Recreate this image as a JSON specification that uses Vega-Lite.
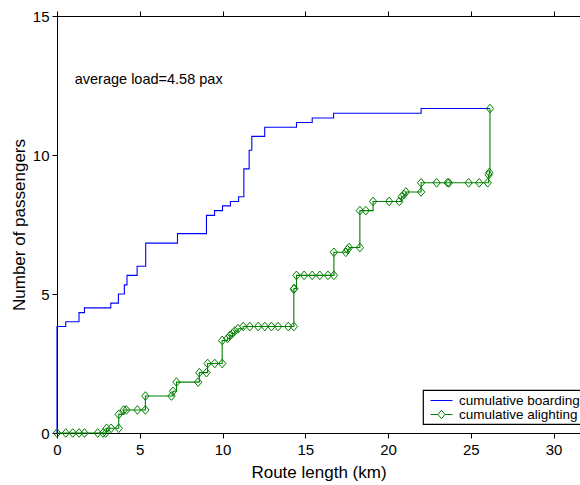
{
  "$schema": "https://vega.github.io/schema/vega-lite/v6.json",
  "width": 523,
  "height": 417,
  "autosize": {"type": "none"},
  "padding": {"left": 57, "top": 16, "right": 0, "bottom": 52},
  "background": "white",
  "config": {
    "view": {"stroke": null},
    "font": "Liberation Sans",
    "axis": {
      "grid": false,
      "domainColor": "black",
      "domainWidth": 1,
      "tickColor": "black",
      "tickWidth": 1,
      "tickSize": 5,
      "labelColor": "black",
      "titleColor": "black",
      "labelFont": "Liberation Sans",
      "titleFont": "Liberation Sans",
      "labelFontSize": 15,
      "titleFontSize": 17,
      "titleFontWeight": "normal",
      "labelFlush": false
    }
  },
  "datasets": {
    "curves": [
      {"series": "cumulative boarding", "i": 0, "km": 0, "pax": 0},
      {"series": "cumulative boarding", "i": 1, "km": 0, "pax": 3.83},
      {"series": "cumulative boarding", "i": 2, "km": 0.53, "pax": 4.0},
      {"series": "cumulative boarding", "i": 3, "km": 1.33, "pax": 4.33},
      {"series": "cumulative boarding", "i": 4, "km": 1.66, "pax": 4.5},
      {"series": "cumulative boarding", "i": 5, "km": 3.25, "pax": 4.67},
      {"series": "cumulative boarding", "i": 6, "km": 3.71, "pax": 5.0},
      {"series": "cumulative boarding", "i": 7, "km": 4.07, "pax": 5.33},
      {"series": "cumulative boarding", "i": 8, "km": 4.23, "pax": 5.67},
      {"series": "cumulative boarding", "i": 9, "km": 4.84, "pax": 6.0},
      {"series": "cumulative boarding", "i": 10, "km": 5.36, "pax": 6.83},
      {"series": "cumulative boarding", "i": 11, "km": 7.28, "pax": 7.17},
      {"series": "cumulative boarding", "i": 12, "km": 9.03, "pax": 7.83},
      {"series": "cumulative boarding", "i": 13, "km": 9.52, "pax": 8.0},
      {"series": "cumulative boarding", "i": 14, "km": 10.0, "pax": 8.17},
      {"series": "cumulative boarding", "i": 15, "km": 10.48, "pax": 8.33},
      {"series": "cumulative boarding", "i": 16, "km": 10.97, "pax": 8.5},
      {"series": "cumulative boarding", "i": 17, "km": 11.29, "pax": 9.5},
      {"series": "cumulative boarding", "i": 18, "km": 11.61, "pax": 10.17},
      {"series": "cumulative boarding", "i": 19, "km": 11.77, "pax": 10.67},
      {"series": "cumulative boarding", "i": 20, "km": 12.55, "pax": 11.0},
      {"series": "cumulative boarding", "i": 21, "km": 14.47, "pax": 11.17},
      {"series": "cumulative boarding", "i": 22, "km": 15.42, "pax": 11.33},
      {"series": "cumulative boarding", "i": 23, "km": 16.71, "pax": 11.5},
      {"series": "cumulative boarding", "i": 24, "km": 22.0, "pax": 11.67},
      {"series": "cumulative boarding", "i": 25, "km": 26.16, "pax": 11.67},
      {"series": "cumulative alighting", "i": 0, "km": 0.0, "pax": 0},
      {"series": "cumulative alighting", "i": 1, "km": 0.53, "pax": 0},
      {"series": "cumulative alighting", "i": 2, "km": 0.95, "pax": 0},
      {"series": "cumulative alighting", "i": 3, "km": 1.33, "pax": 0},
      {"series": "cumulative alighting", "i": 4, "km": 1.66, "pax": 0},
      {"series": "cumulative alighting", "i": 5, "km": 2.46, "pax": 0},
      {"series": "cumulative alighting", "i": 6, "km": 2.78, "pax": 0},
      {"series": "cumulative alighting", "i": 7, "km": 2.94, "pax": 0},
      {"series": "cumulative alighting", "i": 8, "km": 3.0, "pax": 0.17},
      {"series": "cumulative alighting", "i": 9, "km": 3.27, "pax": 0.17},
      {"series": "cumulative alighting", "i": 10, "km": 3.73, "pax": 0.17},
      {"series": "cumulative alighting", "i": 11, "km": 3.73, "pax": 0.67},
      {"series": "cumulative alighting", "i": 12, "km": 4.03, "pax": 0.83},
      {"series": "cumulative alighting", "i": 13, "km": 4.19, "pax": 0.83},
      {"series": "cumulative alighting", "i": 14, "km": 4.86, "pax": 0.83},
      {"series": "cumulative alighting", "i": 15, "km": 5.34, "pax": 0.83},
      {"series": "cumulative alighting", "i": 16, "km": 5.34, "pax": 1.33},
      {"series": "cumulative alighting", "i": 17, "km": 6.92, "pax": 1.33},
      {"series": "cumulative alighting", "i": 18, "km": 7.01, "pax": 1.5},
      {"series": "cumulative alighting", "i": 19, "km": 7.22, "pax": 1.83},
      {"series": "cumulative alighting", "i": 20, "km": 8.53, "pax": 1.83},
      {"series": "cumulative alighting", "i": 21, "km": 8.6, "pax": 2.17},
      {"series": "cumulative alighting", "i": 22, "km": 9.03, "pax": 2.17},
      {"series": "cumulative alighting", "i": 23, "km": 9.1, "pax": 2.5},
      {"series": "cumulative alighting", "i": 24, "km": 9.53, "pax": 2.5},
      {"series": "cumulative alighting", "i": 25, "km": 9.98, "pax": 2.5},
      {"series": "cumulative alighting", "i": 26, "km": 9.98, "pax": 3.33},
      {"series": "cumulative alighting", "i": 27, "km": 10.3, "pax": 3.4},
      {"series": "cumulative alighting", "i": 28, "km": 10.44, "pax": 3.5},
      {"series": "cumulative alighting", "i": 29, "km": 10.6, "pax": 3.58},
      {"series": "cumulative alighting", "i": 30, "km": 10.74, "pax": 3.67},
      {"series": "cumulative alighting", "i": 31, "km": 10.94, "pax": 3.75},
      {"series": "cumulative alighting", "i": 32, "km": 11.25, "pax": 3.83},
      {"series": "cumulative alighting", "i": 33, "km": 11.65, "pax": 3.83},
      {"series": "cumulative alighting", "i": 34, "km": 12.15, "pax": 3.83},
      {"series": "cumulative alighting", "i": 35, "km": 12.56, "pax": 3.83},
      {"series": "cumulative alighting", "i": 36, "km": 12.96, "pax": 3.83},
      {"series": "cumulative alighting", "i": 37, "km": 13.36, "pax": 3.83},
      {"series": "cumulative alighting", "i": 38, "km": 13.97, "pax": 3.83},
      {"series": "cumulative alighting", "i": 39, "km": 14.31, "pax": 3.83},
      {"series": "cumulative alighting", "i": 40, "km": 14.31, "pax": 5.17},
      {"series": "cumulative alighting", "i": 41, "km": 14.33, "pax": 5.2},
      {"series": "cumulative alighting", "i": 42, "km": 14.47, "pax": 5.67},
      {"series": "cumulative alighting", "i": 43, "km": 14.93, "pax": 5.67},
      {"series": "cumulative alighting", "i": 44, "km": 15.42, "pax": 5.67},
      {"series": "cumulative alighting", "i": 45, "km": 15.88, "pax": 5.67},
      {"series": "cumulative alighting", "i": 46, "km": 16.37, "pax": 5.67},
      {"series": "cumulative alighting", "i": 47, "km": 16.73, "pax": 5.67},
      {"series": "cumulative alighting", "i": 48, "km": 16.73, "pax": 6.5},
      {"series": "cumulative alighting", "i": 49, "km": 17.45, "pax": 6.5},
      {"series": "cumulative alighting", "i": 50, "km": 17.55, "pax": 6.6},
      {"series": "cumulative alighting", "i": 51, "km": 17.65, "pax": 6.67},
      {"series": "cumulative alighting", "i": 52, "km": 18.3, "pax": 6.67},
      {"series": "cumulative alighting", "i": 53, "km": 18.3, "pax": 8.0},
      {"series": "cumulative alighting", "i": 54, "km": 18.66, "pax": 8.0},
      {"series": "cumulative alighting", "i": 55, "km": 19.1, "pax": 8.33},
      {"series": "cumulative alighting", "i": 56, "km": 20.07, "pax": 8.33},
      {"series": "cumulative alighting", "i": 57, "km": 20.68, "pax": 8.33},
      {"series": "cumulative alighting", "i": 58, "km": 20.82, "pax": 8.5},
      {"series": "cumulative alighting", "i": 59, "km": 20.96, "pax": 8.58},
      {"series": "cumulative alighting", "i": 60, "km": 21.08, "pax": 8.67},
      {"series": "cumulative alighting", "i": 61, "km": 22.0, "pax": 8.67},
      {"series": "cumulative alighting", "i": 62, "km": 22.0, "pax": 9.0},
      {"series": "cumulative alighting", "i": 63, "km": 22.94, "pax": 9.0},
      {"series": "cumulative alighting", "i": 64, "km": 23.6, "pax": 9.0},
      {"series": "cumulative alighting", "i": 65, "km": 23.68, "pax": 9.0},
      {"series": "cumulative alighting", "i": 66, "km": 24.87, "pax": 9.0},
      {"series": "cumulative alighting", "i": 67, "km": 25.51, "pax": 9.0},
      {"series": "cumulative alighting", "i": 68, "km": 26.02, "pax": 9.0},
      {"series": "cumulative alighting", "i": 69, "km": 26.08, "pax": 9.29},
      {"series": "cumulative alighting", "i": 70, "km": 26.12, "pax": 9.37},
      {"series": "cumulative alighting", "i": 71, "km": 26.16, "pax": 11.67}
    ],
    "note": [{"label": "average load=4.58 pax"}]
  },
  "layer": [
    {
      "data": {"name": "curves"},
      "mark": {"type": "line", "interpolate": "step-after", "strokeWidth": 1.1},
      "encoding": {
        "x": {
          "field": "km", "type": "quantitative",
          "scale": {"domain": [0, 31.6], "nice": false, "zero": false},
          "axis": {"orient": "bottom", "values": [0, 5, 10, 15, 20, 25, 30], "labelPadding": 4, "title": "Route length (km)", "titlePadding": 7,
                   "encode": {"ticks": {"update": {"y2": {"value": -5}}}}}
        },
        "y": {
          "field": "pax", "type": "quantitative",
          "scale": {"domain": [0, 15], "nice": false},
          "axis": {"values": [0, 5, 10, 15], "labelPadding": 3, "title": "Number of passengers", "titlePadding": 4,
                   "encode": {"ticks": {"update": {"x2": {"value": 5}}}}}
        },
        "color": {
          "field": "series", "type": "nominal",
          "scale": {"domain": ["cumulative boarding", "cumulative alighting"], "range": ["#0000ff", "#008000"]},
          "legend": {
            "orient": "none", "legendX": 366, "legendY": 374, "title": null,
            "strokeColor": "black", "fillColor": "white", "padding": 3,
            "labelFont": "Liberation Sans", "labelFontSize": 13.5, "labelColor": "black",
            "symbolSize": 196, "symbolStrokeWidth": 1, "rowPadding": 0, "symbolOffset": 8, "labelOffset": 10,
            "encode": {
              "legend": {"update": {"strokeWidth": {"value": 1.2}}},
              "symbols": {"update": {
                "shape": {"signal": "datum.value === 'cumulative boarding' ? 'M-1.57,0L1.57,0' : 'M-1.57,0L-0.5,0M0.5,0L1.57,0M-0.5,0L0,-0.6L0.5,0L0,0.6Z'"},
                "fill": {"value": "transparent"}
              }}
            }
          }
        },
        "order": {"field": "i", "type": "quantitative"}
      }
    },
    {
      "data": {"name": "curves"},
      "transform": [{"filter": "datum.series === 'cumulative alighting'"}],
      "mark": {"type": "point", "shape": "M-0.85,0L0,-1L0.85,0L0,1Z", "size": 75, "filled": false, "strokeWidth": 1, "opacity": 1},
      "encoding": {
        "x": {
          "field": "km", "type": "quantitative",
          "scale": {"domain": [0, 31.6], "nice": false, "zero": false},
          "axis": {"orient": "top", "values": [0, 5, 10, 15, 20, 25, 30], "labels": false, "title": null,
                   "encode": {"ticks": {"update": {"y2": {"value": 5}}}}}
        },
        "y": {
          "field": "pax", "type": "quantitative",
          "scale": {"domain": [0, 15], "nice": false},
          "axis": {"values": [0, 5, 10, 15], "labelPadding": 3, "title": "Number of passengers", "titlePadding": 4,
                   "encode": {"ticks": {"update": {"x2": {"value": 5}}}}}
        },
        "color": {
          "field": "series", "type": "nominal",
          "scale": {"domain": ["cumulative boarding", "cumulative alighting"], "range": ["#0000ff", "#008000"]},
          "legend": {
            "orient": "none", "legendX": 366, "legendY": 374, "title": null,
            "strokeColor": "black", "fillColor": "white", "padding": 3,
            "labelFont": "Liberation Sans", "labelFontSize": 13.5, "labelColor": "black",
            "symbolSize": 196, "symbolStrokeWidth": 1, "rowPadding": 0, "symbolOffset": 8, "labelOffset": 10,
            "encode": {
              "legend": {"update": {"strokeWidth": {"value": 1.2}}},
              "symbols": {"update": {
                "shape": {"signal": "datum.value === 'cumulative boarding' ? 'M-1.57,0L1.57,0' : 'M-1.57,0L-0.5,0M0.5,0L1.57,0M-0.5,0L0,-0.6L0.5,0L0,0.6Z'"},
                "fill": {"value": "transparent"}
              }}
            }
          }
        }
      }
    },
    {
      "data": {"name": "note"},
      "mark": {"type": "text", "align": "left", "baseline": "middle", "fontSize": 14.5, "font": "Liberation Sans", "color": "black"},
      "encoding": {
        "x": {"datum": 1.07, "type": "quantitative", "axis": null},
        "y": {
          "datum": 12.7, "type": "quantitative",
          "axis": {"values": [0, 5, 10, 15], "labelPadding": 3, "title": "Number of passengers", "titlePadding": 4,
                   "encode": {"ticks": {"update": {"x2": {"value": 5}}}}}
        },
        "text": {"field": "label"}
      }
    }
  ],
  "resolve": {"axis": {"x": "independent"}}
}
